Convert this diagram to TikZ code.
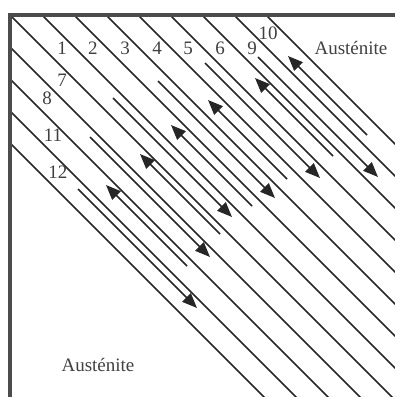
\documentclass[tikz,border=0pt]{standalone}
\usepackage{fontspec}
\setmainfont{Liberation Serif}
\usetikzlibrary{arrows.meta}

\begin{document}
\begin{tikzpicture}[
  x=1pt, y=-1pt,
  wall/.style={line width=4pt, draw=black!70},
  trace/.style={line width=1.6pt, draw=black!85},
  fwd/.style={trace, -{Triangle[length=15pt, width=12pt]}},
  back/.style={trace, {Triangle[length=15pt, width=12pt]}-},
  lbl/.style={font=\fontsize{19}{22}\selectfont, text=black!75, inner sep=0pt}
]
\useasboundingbox (0,0) rectangle (395,397);

% long traces, clipped by the frame
\begin{scope}
\clip (10,15) rectangle (395,397);
\foreach \c in {-133,-101,...,251}
  \draw[trace] ({\c-20},-20) -- ({\c+420},420);
\end{scope}

% short traces running down
\foreach \c/\a/\b in {-111/78/197, -47/90/210, 15/113/232, 77/158/275, 142/205/320, 201/258/378}
  \draw[fwd] ({\a},{\a-(\c)}) -- ({\b},{\b-(\c)});

% short traces running up
\foreach \c/\a/\b in {-79/106/187, -14/140/220, 46/171/252, 108/208/287, 177/255/333, 232/288/367}
  \draw[back] ({\a},{\a-(\c)}) -- ({\b},{\b-(\c)});

% frame
\draw[wall] (10,397) -- (10,15) -- (395,15);

% labels
\node[lbl] (n1) at (62,48) {1};
\node[lbl] (n2) at (93,48) {2};
\node[lbl] (n3) at (125,48) {3};
\node[lbl] (n4) at (157,48) {4};
\node[lbl] (n5) at (188,48) {5};
\node[lbl] (n6) at (220,48) {6};
\node[lbl] (n9) at (252,48) {9};
\node[lbl] (n10) at (268,33) {10};
\node[lbl] (n7) at (62,80) {7};
\node[lbl] (n8) at (47,98) {8};
\node[lbl] (n11) at (53,135) {11};
\node[lbl] (n12) at (58,172) {12};
\node[lbl] (topaus) at (351,48) {Austénite};
\node[lbl] (botaus) at (98,365) {Austénite};

\end{tikzpicture}
\end{document}
